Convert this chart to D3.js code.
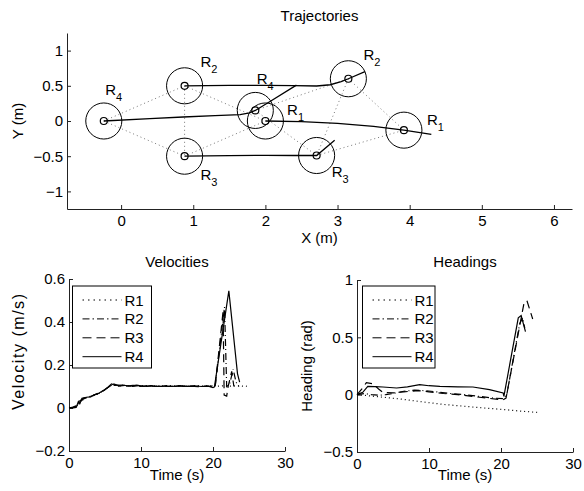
<!DOCTYPE html>
<html>
<head>
<meta charset="utf-8">
<script src="https://cdn.jsdelivr.net/npm/d3@7"></script>
<style>
  body { margin: 0; background: #fff; }
  svg { display: block; font-family: "Liberation Sans", Arial, Helvetica, sans-serif; }
  .axis path, .axis line { stroke: #222; }
  .axis text { font-size: 15px; fill: #000; font-family: "Liberation Sans", Arial, sans-serif; }
</style>
</head>
<body>
<svg id="chart" width="584" height="491"></svg>
<script>
/* ---- data ---- */
const robots = ["R1", "R2", "R3", "R4"];
const trajXTicks = [0, 1, 2, 3, 4, 5, 6];
const trajYTicks = [-1, -0.5, 0, 0.5, 1];
const timeTicks = [0, 10, 20, 30];
const velTicks = [-0.2, 0, 0.2, 0.4, 0.6];
const headTicks = [-0.5, 0, 0.5, 1];

/* robot positions at start and end of the run (m) */
const startPos = [[2.0, 0], [0.88, 0.5], [0.88, -0.5], [-0.24, 0]];
const endPos = [[3.92, -0.13], [3.15, 0.6], [2.71, -0.49], [1.86, 0.15]];
const robotRadius = 0.25;

/* formation graph edges (indices into robots) */
const formationEdges = [[3, 1], [3, 2], [1, 0], [2, 0], [1, 2]];

/* label anchors, data units */
const startLabels = [[2.3, 0.08], [1.1, 0.77], [1.1, -0.84], [-0.22, 0.365]];
const endLabels = [[4.24, -0.06], [3.36, 0.86], [2.92, -0.8], [1.88, 0.53]];

/* trajectories (x, y) */
const pathR1 = [[2.0, 0], [2.5, -0.01], [3.0, -0.035], [3.5, -0.075], [3.92, -0.13], [4.3, -0.19]];
const pathR2 = [[0.88, 0.5], [1.5, 0.505], [2.0, 0.507], [2.4, 0.502], [2.71, 0.497], [2.9, 0.515], [3.05, 0.56], [3.15, 0.6], [3.38, 0.7]];
const pathR3 = [[0.88, -0.5], [1.5, -0.492], [2.0, -0.488], [2.4, -0.49], [2.71, -0.49], [2.96, -0.275]];
const pathR4 = [[-0.24, 0], [0.4, 0.035], [0.86, 0.057], [1.3, 0.075], [1.65, 0.09], [1.78, 0.115], [1.86, 0.15], [2.07, 0.28], [2.43, 0.51]];

/* velocities (t, v) */
const velR1 = [[0, 0.003], [0.6, 0.004], [1.2, 0.012], [1.8, 0.035], [2.4, 0.048], [3, 0.053], [3.6, 0.06], [4.2, 0.068], [4.8, 0.08], [5.4, 0.095], [6, 0.108], [6.6, 0.104], [7.5, 0.106], [8.5, 0.103], [9.5, 0.105], [10.5, 0.102], [11.5, 0.104], [12.5, 0.101], [13.5, 0.104], [14.5, 0.102], [15.5, 0.103], [16.5, 0.101], [17.5, 0.104], [18.5, 0.102], [19.5, 0.103], [20.5, 0.101], [21.5, 0.103], [22.5, 0.102], [23.5, 0.103], [24.5, 0.101], [25, 0.102]];
const velR2 = [[0, 0.0], [0.7, 0.005], [1.3, 0.02], [1.9, 0.04], [2.5, 0.05], [3.1, 0.055], [3.7, 0.063], [4.3, 0.07], [4.9, 0.083], [5.5, 0.098], [6.1, 0.11], [6.8, 0.102], [7.8, 0.105], [8.8, 0.101], [9.8, 0.104], [10.8, 0.1], [11.8, 0.103], [12.8, 0.1], [13.8, 0.104], [14.8, 0.101], [15.8, 0.104], [16.8, 0.1], [17.8, 0.103], [18.8, 0.1], [19.8, 0.104], [20.3, 0.1], [21.6, 0.47], [21.9, 0.1], [22.3, 0.11], [22.8, 0.18], [23.2, 0.12], [23.6, 0.1]];
const velR3 = [[0, 0.0], [0.8, 0.003], [1.4, 0.03], [2.0, 0.045], [2.6, 0.05], [3.2, 0.057], [3.8, 0.065], [4.4, 0.072], [5.0, 0.085], [5.6, 0.1], [6.2, 0.112], [6.9, 0.104], [7.9, 0.102], [8.9, 0.105], [9.9, 0.101], [10.9, 0.103], [11.9, 0.1], [12.9, 0.102], [13.9, 0.1], [14.9, 0.103], [15.9, 0.1], [16.9, 0.102], [17.9, 0.099], [18.9, 0.102], [19.9, 0.099], [20.3, 0.1], [21.4, 0.45], [21.55, 0.06], [21.9, 0.055], [22.1, 0.1], [22.6, 0.17], [22.9, 0.1]];
const velR4 = [[0, 0.002], [0.5, 0.001], [1.0, 0.003], [1.3, 0.03], [1.5, 0.02], [1.8, 0.045], [2.4, 0.05], [3.0, 0.052], [3.6, 0.062], [4.2, 0.07], [4.8, 0.082], [5.4, 0.097], [5.9, 0.112], [6.4, 0.105], [7.4, 0.107], [8.4, 0.102], [9.4, 0.106], [10.4, 0.101], [11.4, 0.104], [12.4, 0.1], [13.4, 0.103], [14.4, 0.1], [15.4, 0.104], [16.4, 0.101], [17.4, 0.103], [18.4, 0.1], [19.4, 0.102], [20.0, 0.095], [20.2, 0.098], [22.2, 0.545], [23.4, 0.16], [23.7, 0.12]];

/* headings (t, rad) */
const headR1 = [[0, 0], [3, -0.018], [6.3, -0.04], [9, -0.062], [12, -0.085], [16.5, -0.11], [20.4, -0.13], [23, -0.145], [25.2, -0.155]];
const headR2 = [[0, 0], [1, 0.01], [2, 0.0], [3, -0.005], [4, 0.0], [5, 0.01], [6.5, 0.03], [8, 0.04], [9.5, 0.035], [11, 0.025], [13, 0.01], [15, 0.0], [17, -0.015], [19, -0.03], [20.3, -0.035], [20.8, 0.0], [22.6, 0.62], [23.0, 0.67], [23.3, 0.58]];
const headR3 = [[0, 0], [0.8, 0.06], [1.3, 0.105], [2.2, 0.095], [3, 0.05], [3.6, 0.02], [5, 0.015], [6.5, 0.025], [8.5, 0.035], [10, 0.025], [12, 0.01], [14, 0.0], [16, -0.015], [18, -0.03], [20.3, -0.045], [20.7, -0.03], [23.2, 0.8], [23.6, 0.82], [24.3, 0.68], [24.4, 0.66]];
const headR4 = [[0, 0], [0.8, 0.02], [1.5, 0.072], [2.5, 0.07], [3.6, 0.067], [5.5, 0.058], [7, 0.068], [8.7, 0.087], [10, 0.078], [11.5, 0.072], [14, 0.068], [16.1, 0.067], [18.4, 0.044], [20.3, 0.015], [20.4, -0.015], [22.4, 0.67], [22.8, 0.69], [23.4, 0.55]];

const paths = [pathR1, pathR2, pathR3, pathR4];
const velocities = [velR1, velR2, velR3, velR4];
const headings = [headR1, headR2, headR3, headR4];

/* MATLAB style line patterns for R1..R4 */
const dashes = ["1,3", "7,3,1,3", "8,5", null];
const legendDashes = ["1.5,4", "7,3,1.5,3", "9,5", null];

const svg = d3.select("#chart");
const fmt = d3.format("~g");

/* draws a left+bottom axis pair with inward ticks */
function drawAxes(g, x, y, xTicks, yTicks, left, top, bottom) {
  g.append("g")
    .attr("class", "axis")
    .attr("transform", "translate(0," + bottom + ")")
    .call(d3.axisBottom(x).tickValues(xTicks).tickFormat(fmt).tickSizeInner(-4).tickSizeOuter(0).tickPadding(6));
  g.append("g")
    .attr("class", "axis")
    .attr("transform", "translate(" + left + ",0)")
    .call(d3.axisLeft(y).tickValues(yTicks).tickFormat(fmt).tickSizeInner(-4).tickSizeOuter(0).tickPadding(4));
}

function label(text, x, y, rotate) {
  const t = svg.append("text")
    .attr("text-anchor", "middle")
    .style("font-size", "15px")
    .text(text);
  if (rotate) t.attr("transform", "translate(" + x + "," + y + ") rotate(-90)");
  else t.attr("x", x).attr("y", y);
  return t;
}

/* ---- trajectories ---- */
const tx = d3.scaleLinear().domain([-0.75, 6.25]).range([67, 572]);
const ty = d3.scaleLinear().domain([-1.25, 1.25]).range([209, 33]);
const traj = svg.append("g");
drawAxes(traj, tx, ty, trajXTicks, trajYTicks, 67, 33, 209);

const pline = d3.line().x(d => tx(d[0])).y(d => ty(d[1]));

/*dotted formation links at start and end*/
[startPos, endPos].forEach(pos => {
  traj.selectAll(null)
    .data(formationEdges)
    .enter()
    .append("path")
    .attr("d", e => pline([pos[e[0]], pos[e[1]]]))
    .attr("fill", "none")
    .attr("stroke", "#777")
    .attr("stroke-width", 1)
    .attr("stroke-dasharray", "1,3");
});

traj.selectAll(null)
  .data(paths)
  .enter()
  .append("path")
  .attr("d", pline)
  .attr("fill", "none")
  .attr("stroke", "#000")
  .attr("stroke-width", 1.3);

const rpx = tx(robotRadius) - tx(0);
[startPos, endPos].forEach((pos, k) => {
  traj.selectAll(null)
    .data(pos)
    .enter()
    .append("circle")
    .attr("cx", d => tx(d[0]))
    .attr("cy", d => ty(d[1]))
    .attr("r", rpx)
    .attr("fill", "none")
    .attr("stroke", "#000")
    .attr("stroke-width", 1);
  traj.selectAll(null)
    .data(pos)
    .enter()
    .append("circle")
    .attr("cx", d => tx(d[0]))
    .attr("cy", d => ty(d[1]))
    .attr("r", 3.5)
    .attr("fill", "none")
    .attr("stroke", "#000")
    .attr("stroke-width", 1.2);
  const labs = k === 0 ? startLabels : endLabels;
  const t = traj.selectAll(null)
    .data(labs)
    .enter()
    .append("text")
    .attr("x", d => tx(d[0]))
    .attr("y", d => ty(d[1]))
    .style("font-size", "15px");
  t.append("tspan").text("R");
  t.append("tspan")
    .attr("dy", 6)
    .style("font-size", "11px")
    .text((d, i) => robots[i].slice(1));
});

label("Trajectories", 319.5, 21);
label("X (m)", 319.5, 243);
label("Y (m)", 23, 121, true);

/* ---- velocity and heading panels ---- */
function timePanel(series, yDomain, yTicks, box, legendBox, title, yLabel, yLabelX) {
  const x = d3.scaleLinear().domain([0, 30]).range([box.left, box.right]);
  const y = d3.scaleLinear().domain(yDomain).range([box.bottom, box.top]);
  const g = svg.append("g");
  drawAxes(g, x, y, timeTicks, yTicks, box.left, box.top, box.bottom);

  const line = d3.line().x(d => x(d[0])).y(d => y(d[1]));
  g.selectAll(null)
    .data(series)
    .enter()
    .append("path")
    .attr("d", line)
    .attr("fill", "none")
    .attr("stroke", "#000")
    .attr("stroke-width", 1.2)
    .attr("stroke-dasharray", (d, i) => dashes[i]);

  /*legend*/
  const lg = g.append("g");
  lg.append("rect")
    .attr("x", legendBox.x)
    .attr("y", legendBox.y)
    .attr("width", legendBox.w)
    .attr("height", legendBox.h)
    .attr("fill", "#fff")
    .attr("stroke", "#000");
  robots.forEach((r, i) => {
    const ly = legendBox.y + 14 + i * 18.9;
    lg.append("line")
      .attr("x1", legendBox.x + 10)
      .attr("x2", legendBox.x + 49)
      .attr("y1", ly)
      .attr("y2", ly)
      .attr("stroke", "#000")
      .attr("stroke-width", 1)
      .attr("stroke-dasharray", legendDashes[i]);
    lg.append("text")
      .attr("x", legendBox.x + 52)
      .attr("y", ly + 5.5)
      .style("font-size", "15px")
      .text(r);
  });

  const cx = (box.left + box.right) / 2;
  label(title, cx, 267);
  label("Time (s)", cx, 480);
  return label(yLabel, yLabelX, (box.top + box.bottom) / 2, true);
}

timePanel(velocities, [-0.2, 0.6], velTicks,
  { left: 69, right: 285, top: 279, bottom: 451 },
  { x: 72.5, y: 286, w: 79, h: 82 },
  "Velocities", "Velocity (m/s)", 24)
  .attr("transform", "translate(24,352) rotate(-90)")
  .style("font-size", "16px")
  .attr("textLength", 116)
  .attr("lengthAdjust", "spacing");

timePanel(headings, [-0.5, 1], headTicks,
  { left: 357, right: 573, top: 280, bottom: 452 },
  { x: 362.5, y: 286, w: 72.5, h: 82 },
  "Headings", "Heading (rad)", 312);
</script>
</body>
</html>
